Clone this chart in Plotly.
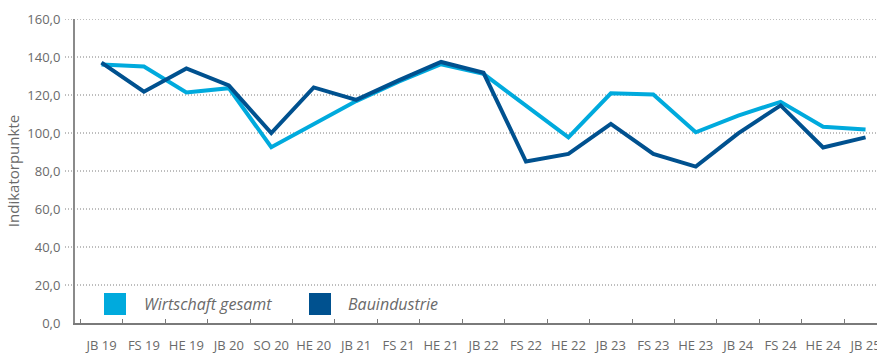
import plotly.graph_objects as go

# Survey periods (Jahresbeginn / Frühsommer / Herbst / Sommer)
periods = ["JB 19", "FS 19", "HE 19", "JB 20", "SO 20", "HE 20", "JB 21", "FS 21",
           "HE 21", "JB 22", "FS 22", "HE 22", "JB 23", "FS 23", "HE 23", "JB 24",
           "FS 24", "HE 24", "JB 25"]

series_names = ["Wirtschaft gesamt", "Bauindustrie"]

wirtschaft_gesamt = [136.0, 135.0, 121.3, 123.6, 92.5, 104.6, 116.8, 127.0, 136.2,
                     131.1, 114.5, 97.7, 120.9, 120.3, 100.4, 109.2, 116.4, 103.3, 101.8]
bauindustrie = [137.0, 121.7, 134.0, 125.0, 100.0, 124.0, 117.4, 127.7, 137.4,
                131.7, 85.0, 89.0, 104.8, 89.0, 82.3, 99.8, 114.5, 92.4, 97.7]

y_ticks = [0, 20, 40, 60, 80, 100, 120, 140, 160]

colors = ["#00AADD", "#00518F"]
text_gray = "#6a6a6a"
axis_gray = "#8a8a8a"

W, H = 877, 354
ML, MR, MT, MB = 75, 0, 19, 31
plot_w = W - ML - MR
plot_h = H - MT - MB


def px_x(px):
    return (px - ML) / plot_w


def px_y(py):
    return (H - MB - py) / plot_h


fig = go.Figure()
for name, vals, col in zip(series_names, [wirtschaft_gesamt, bauindustrie], colors):
    fig.add_trace(go.Scatter(
        x=periods, y=vals, name=name, mode="lines",
        line=dict(color=col, width=4), showlegend=False,
        hoverinfo="x+y+name",
    ))

# dotted horizontal grid, running a little to the left of the value axis
shapes = []
for v in y_ticks[1:]:
    shapes.append(dict(type="line", xref="paper", yref="y",
                       x0=px_x(65), x1=1, y0=v, y1=v, layer="below",
                       line=dict(color="#7c7c7c", width=1, dash="1px,2px")))

# legend: coloured squares with italic labels
legend_items = [(104, 142), (309, 346)]
annotations = []
for (sq_x, txt_x), name, col in zip(legend_items, series_names, colors):
    shapes.append(dict(type="rect", xref="paper", yref="paper",
                       x0=px_x(sq_x), x1=px_x(sq_x + 22),
                       y0=px_y(315), y1=px_y(293),
                       fillcolor=col, line=dict(width=0)))
    annotations.append(dict(xref="paper", yref="paper", x=px_x(txt_x), y=px_y(304),
                            xanchor="left", yanchor="middle", showarrow=False,
                            text=f"<i>{name}</i>",
                            font=dict(family="Open Sans", size=16, color=text_gray)))

fig.update_layout(
    width=W, height=H,
    margin=dict(l=ML, r=MR, t=MT, b=MB, autoexpand=False),
    paper_bgcolor="white", plot_bgcolor="white",
    separators=",.",
    font=dict(family="Open Sans", size=13, color=text_gray),
    shapes=shapes, annotations=annotations,
    xaxis=dict(
        type="category", categoryorder="array", categoryarray=periods,
        range=[-0.624, 18.27], showgrid=False, zeroline=False,
        showline=True, linecolor="#7a7a7a", linewidth=2,
        ticks="inside", ticklen=4, tickcolor="#7a7a7a", tickwidth=1,
        tickson="boundaries", ticklabelstandoff=9, tickangle=0,
        tickfont=dict(family="Open Sans", size=13, color=text_gray),
        automargin=False,
    ),
    yaxis=dict(
        range=[0, 160], tickvals=y_ticks, tickformat=".1f",
        showgrid=False, zeroline=False,
        showline=True, linecolor=axis_gray, linewidth=2,
        ticks="outside", ticklen=10, tickcolor="rgba(0,0,0,0)",
        tickfont=dict(family="Open Sans", size=13, color=text_gray),
        title=dict(text="Indikatorpunkte", standoff=4,
                   font=dict(family="Open Sans", size=15, color=text_gray)),
        automargin=False,
    ),
)

fig.write_html("out.html")
